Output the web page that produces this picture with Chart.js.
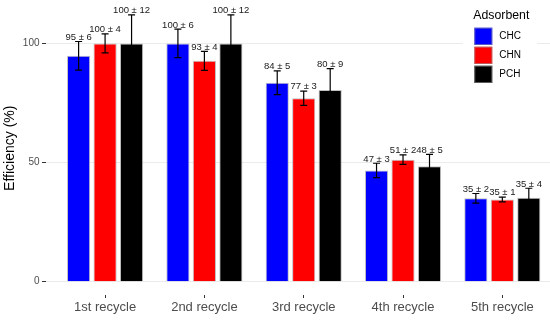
<!DOCTYPE html>
<html>
<head>
<meta charset="utf-8">
<script src="https://cdn.jsdelivr.net/npm/chart.js@4"></script>
<style>
  html, body { margin: 0; padding: 0; background: #fff; }
  #wrap { width: 550px; height: 321px; }
</style>
</head>
<body>
<div id="wrap"><canvas id="recycleChart"></canvas></div>
<script>
// data
const recycles = ['1st recycle', '2nd recycle', '3rd recycle', '4th recycle', '5th recycle'];
const adsorbents = ['CHC', 'CHN', 'PCH'];
const chcMean = [94.8, 100, 83.5, 46.7, 35.0];
const chnMean = [100, 92.7, 77.0, 51.2, 34.5];
const pchMean = [100, 100, 80.4, 48.4, 35.2];
const chcSd = [6, 6, 5, 3, 2];
const chnSd = [4, 4, 3, 2, 1];
const pchSd = [12, 12, 9, 5, 4];
const yTicks = [0, 50, 100];
const colors = ['#0000ff', '#ff0000', '#000000'];

const FONT = '"Liberation Sans", Arial, sans-serif';
Chart.defaults.font.family = FONT;

const means = [chcMean, chnMean, pchMean];
const sds = [chcSd, chnSd, pchSd];

// error bars + "mean ± sd" labels
const errorBars = {
  id: 'errorBars',
  afterDatasetsDraw(chart) {
    const ctx = chart.ctx;
    const y = chart.scales.y;
    ctx.save();
    chart.data.datasets.forEach((ds, i) => {
      chart.getDatasetMeta(i).data.forEach((bar, j) => {
        const m = ds.data[j].y, s = ds.sd[j];
        const top = y.getPixelForValue(m + s);
        const bot = y.getPixelForValue(m - s);
        ctx.strokeStyle = '#000';
        ctx.lineWidth = 1.2;
        ctx.beginPath();
        ctx.moveTo(bar.x, top); ctx.lineTo(bar.x, bot);
        ctx.moveTo(bar.x - 3.5, top); ctx.lineTo(bar.x + 3.5, top);
        ctx.moveTo(bar.x - 3.5, bot); ctx.lineTo(bar.x + 3.5, bot);
        ctx.stroke();
        ctx.fillStyle = '#1a1a1a';
        ctx.font = '9.5px ' + FONT;
        ctx.textAlign = 'center';
        ctx.textBaseline = 'alphabetic';
        ctx.fillText(Math.round(m) + ' ± ' + s, bar.x, top - 1.6);
      });
    });
    ctx.restore();
  }
};

// legend box in the top right corner
const sideLegend = {
  id: 'sideLegend',
  afterDraw(chart) {
    const ctx = chart.ctx;
    ctx.save();
    ctx.fillStyle = '#fff';
    ctx.fillRect(463, 0, 74, 90);
    ctx.fillStyle = '#000';
    ctx.font = '12.3px ' + FONT;
    ctx.textAlign = 'left';
    ctx.textBaseline = 'middle';
    ctx.fillText('Adsorbent', 473.3, 16);
    chart.data.datasets.forEach((ds, i) => {
      const top = 27.7 + i * 19;
      ctx.fillStyle = ds.backgroundColor;
      ctx.fillRect(474.3, top, 18, 17.3);
      ctx.strokeStyle = 'rgba(150,150,150,0.6)';
      ctx.lineWidth = 1;
      ctx.strokeRect(474.8, top + 0.5, 17, 16.3);
      ctx.fillStyle = '#000';
      ctx.font = '10px ' + FONT;
      ctx.fillText(ds.label, 499.3, top + 8.8);
    });
    ctx.restore();
  }
};

new Chart(document.getElementById('recycleChart'), {
  type: 'bar',
  data: {
    datasets: adsorbents.map((name, i) => ({
      label: name,
      data: means[i].map((v, j) => ({ x: j, y: v })),
      sd: sds[i],
      backgroundColor: colors[i],
      borderColor: 'rgba(150,150,150,0.6)',
      borderWidth: 1,
      categoryPercentage: 0.8,
      barPercentage: 0.875
    }))
  },
  options: {
    responsive: true,
    maintainAspectRatio: false,
    animation: false,
    layout: { padding: { top: 1.5, right: 0, bottom: 0, left: 0 } },
    plugins: {
      legend: { display: false },
      tooltip: { enabled: false }
    },
    scales: {
      x: {
        type: 'linear',
        min: -0.6,
        max: 4.48,
        offset: false,
        afterBuildTicks: s => { s.ticks = recycles.map((_, i) => ({ value: i })); },
        afterFit: s => { s.height = 26; s.paddingLeft = 0; s.paddingRight = 0; },
        grid: { offset: false, drawOnChartArea: false, tickLength: 3, tickColor: '#333', tickWidth: 1 },
        border: { display: false },
        ticks: {
          callback: v => recycles[v],
          color: '#4d4d4d',
          font: { size: 13 },
          padding: 2,
          maxRotation: 0,
          autoSkip: false
        }
      },
      y: {
        min: -5.6,
        max: 117.6,
        afterBuildTicks: s => { s.ticks = yTicks.map(v => ({ value: v })); },
        afterFit: s => { s.width = 45.5; s.paddingTop = 0; s.paddingBottom = 0; },
        grid: { color: '#ebebeb', lineWidth: 1, tickLength: 3.5, tickColor: '#333', tickWidth: 1 },
        border: { display: false },
        ticks: { color: '#4d4d4d', font: { size: 10 }, padding: 2.5 },
        title: {
          display: true,
          text: 'Efficiency (%)',
          color: '#000',
          font: { size: 14 },
          padding: { top: 2, bottom: 0 }
        }
      }
    }
  },
  plugins: [errorBars, sideLegend]
});
</script>
</body>
</html>
